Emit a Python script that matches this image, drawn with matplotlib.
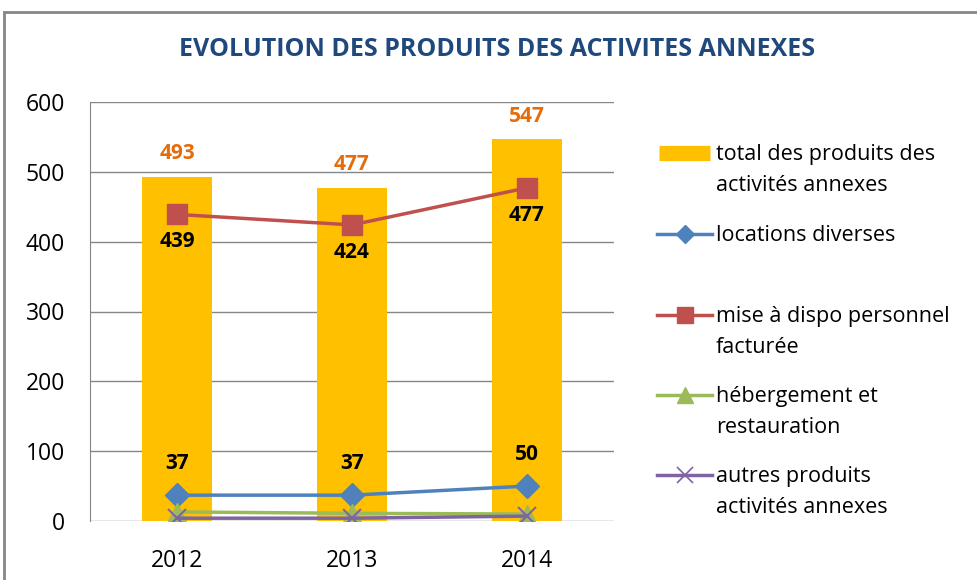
import numpy as np
import matplotlib
matplotlib.use("Agg")
import matplotlib.pyplot as plt
from matplotlib.lines import Line2D
from matplotlib.patches import Rectangle

# =========================
# DATA
# =========================
years = ["2012", "2013", "2014"]
total = [493, 477, 547]
locations = [37, 37, 50]
mise_dispo = [439, 424, 477]
hebergement = [13, 11, 10]
autres = [4, 4, 7]

labels = [
    "total des produits des\nactivités annexes",
    "locations diverses",
    "mise à dispo personnel\nfacturée",
    "hébergement et\nrestauration",
    "autres produits\nactivités annexes",
]

plt.rcParams["font.family"] = ["Open Sans", "DejaVu Sans"]

W, H = 978, 580
fig = plt.figure(figsize=(W / 100, H / 100), dpi=100)
ax = fig.add_axes([90 / W, 1 - 521 / H, 524 / W, 419 / H])

# chart frame
fig.patches.append(Rectangle((4 / W, -0.1), 1.2, 1 - 12 / H + 0.1,
                             transform=fig.transFigure, fill=False,
                             edgecolor="#868686", linewidth=2))

x = np.arange(len(years))

ax.bar(x, total, width=0.4, color="#FFC000", zorder=2)
ax.plot(x, locations, color="#4F81BD", lw=2.5, marker="D", ms=12, zorder=3)
ax.plot(x, mise_dispo, color="#C0504D", lw=2.5, marker="s", ms=14, zorder=3)
ax.plot(x, hebergement, color="#9BBB59", lw=2.5, marker="^", ms=13, zorder=3)
ax.plot(x, autres, color="#8064A2", lw=2.5, marker="x", ms=13, mew=1.5, zorder=4)

# data labels
for i in range(len(years)):
    ax.annotate(str(total[i]), (x[i], total[i]), xytext=(0, 9), textcoords="offset points",
                ha="center", va="bottom", color="#E46C0A", fontsize=15, fontweight="bold")
    ax.annotate(str(mise_dispo[i]), (x[i], mise_dispo[i]), xytext=(0, -12), textcoords="offset points",
                ha="center", va="top", color="black", fontsize=15, fontweight="bold")
    ax.annotate(str(locations[i]), (x[i], locations[i]), xytext=(0, 15), textcoords="offset points",
                ha="center", va="bottom", color="black", fontsize=15, fontweight="bold")

ax.set_xlim(-0.5, 2.5)
ax.set_ylim(0, 600)
ax.set_yticks(range(0, 601, 100))
ax.set_xticks(x)
ax.set_xticklabels(years)
ax.tick_params(axis="both", length=0, labelsize=16.5, pad=18)
ax.tick_params(axis="x", pad=20)
ax.grid(axis="y", color="#868686", lw=1, zorder=0)
for s in ["top", "right", "bottom"]:
    ax.spines[s].set_visible(False)
ax.spines["left"].set_color("#868686")

fig.text(497 / W, 1 - 50 / H, "EVOLUTION DES PRODUITS DES ACTIVITES ANNEXES",
         ha="center", va="center", color="#1F497D", fontsize=18, fontweight="bold")

# legend, drawn like the spreadsheet one (handle level with first line)
handle_styles = [
    dict(color="#FFC000", lw=11, marker=None),
    dict(color="#4F81BD", lw=2.5, marker="D", ms=9),
    dict(color="#C0504D", lw=2.5, marker="s", ms=12),
    dict(color="#9BBB59", lw=2.5, marker="^", ms=11),
    dict(color="#8064A2", lw=2.5, marker="x", ms=11, mew=1.2),
]
entry_y = [153, 234, 315, 395, 475]
for lab, st, yy in zip(labels, handle_styles, entry_y):
    yf = 1 - yy / H
    if st["marker"] is None:
        fig.add_artist(Line2D([659 / W, 710 / W], [yf, yf], transform=fig.transFigure,
                              color=st["color"], lw=st["lw"], solid_capstyle="butt"))
    else:
        fig.add_artist(Line2D([657 / W, 712 / W], [yf, yf], transform=fig.transFigure,
                              color=st["color"], lw=st["lw"]))
        fig.add_artist(Line2D([684.5 / W], [yf], transform=fig.transFigure, color=st["color"],
                              marker=st["marker"], ms=st["ms"], mew=st.get("mew", 1),
                              linestyle="none"))
    fig.text(716 / W, 1 - (yy - 9) / H, lab, ha="left", va="top", fontsize=15.5,
             linespacing=1.6)

fig.savefig("out.png", dpi=100)
